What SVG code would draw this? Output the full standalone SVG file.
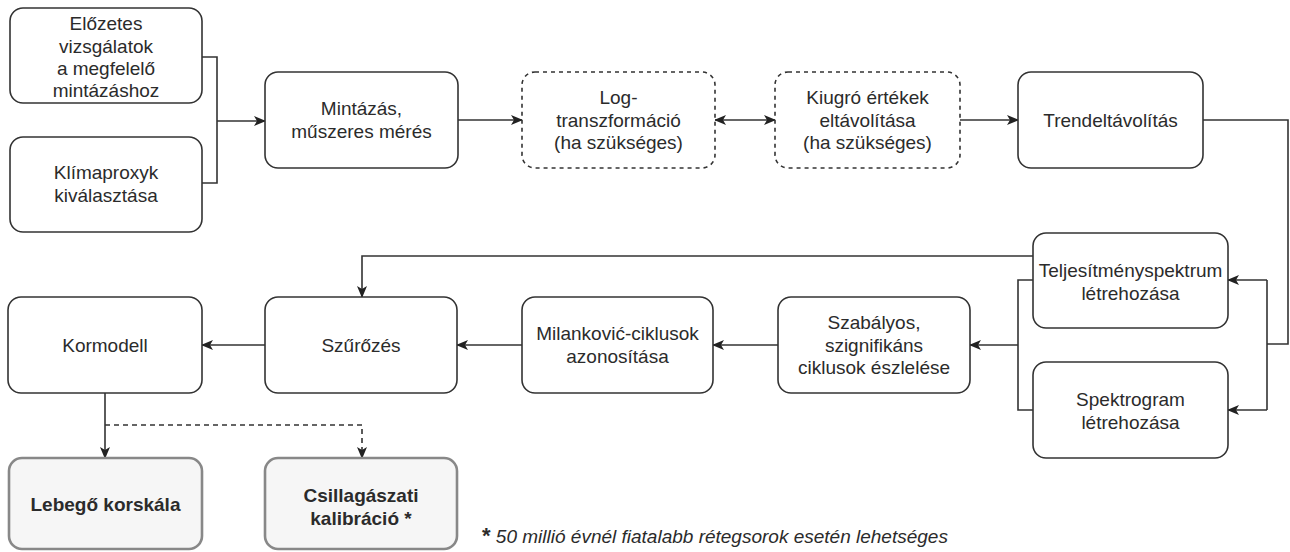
<svg xmlns="http://www.w3.org/2000/svg" width="1290" height="552" viewBox="0 0 1290 552">
<defs>
<style>
.box{fill:#fff;stroke:#333;stroke-width:1.6}
.dash{fill:#fff;stroke:#333;stroke-width:1.6;stroke-dasharray:4 4}
.res{fill:#f6f6f6;stroke:#888;stroke-width:2.6}
.t{font-family:"Liberation Sans",Arial,sans-serif;font-size:19px;fill:#2b2b2b;text-anchor:middle}
.b{font-weight:bold}
.c{fill:none;stroke:#333;stroke-width:1.6}
.cd{fill:none;stroke:#333;stroke-width:1.6;stroke-dasharray:5 4}
.note{font-family:"Liberation Sans",Arial,sans-serif;font-size:19px;fill:#2b2b2b;font-style:italic}
</style>
<marker id="ah" viewBox="0 0 12 10" refX="11" refY="5" markerWidth="12" markerHeight="10" markerUnits="userSpaceOnUse" orient="auto-start-reverse">
<path d="M0,0 L12,5 L0,10 L3,5 z" fill="#222"/>
</marker>
</defs>
<rect width="1290" height="552" fill="#fff"/>
<g id="connectors">
<path class="c" d="M202,57 H217 V183 H202"/>
<path class="c" d="M217,121 H265" marker-end="url(#ah)"/>
<path class="c" d="M458,120 H522" marker-end="url(#ah)"/>
<path class="c" d="M715,120 H775" marker-start="url(#ah)" marker-end="url(#ah)"/>
<path class="c" d="M960,120 H1018" marker-end="url(#ah)"/>
<path class="c" d="M1203,120 H1288 V344 H1267"/>
<path class="c" d="M1267,280 V410"/>
<path class="c" d="M1267,280 H1228" marker-end="url(#ah)"/>
<path class="c" d="M1267,410 H1228" marker-end="url(#ah)"/>
<path class="c" d="M1033,280 H1018 V410 H1033"/>
<path class="c" d="M1018,345 H970" marker-end="url(#ah)"/>
<path class="c" d="M1033,256 H362 V297" marker-end="url(#ah)"/>
<path class="c" d="M778,345 H713" marker-end="url(#ah)"/>
<path class="c" d="M522,345 H457" marker-end="url(#ah)"/>
<path class="c" d="M265,345 H202" marker-end="url(#ah)"/>
<path class="c" d="M105,393 V458" marker-end="url(#ah)"/>
<path class="cd" d="M105,425 H362 V458" marker-end="url(#ah)"/>
</g>
<g id="n-elozetes">
<rect class="box" x="10" y="8" width="192" height="95" rx="13"/>
<text class="t" x="106" y="30">Előzetes</text>
<text class="t" x="106" y="52.5">vizsgálatok</text>
<text class="t" x="106" y="75">a megfelelő</text>
<text class="t" x="106" y="97">mintázáshoz</text>
</g>
<g id="n-klima">
<rect class="box" x="10" y="137" width="192" height="95" rx="13"/>
<text class="t" x="106" y="179">Klímaproxyk</text>
<text class="t" x="106" y="201.5">kiválasztása</text>
</g>
<g id="n-mintazas">
<rect class="box" x="265" y="72" width="193" height="96" rx="13"/>
<text class="t" x="361.5" y="115">Mintázás,</text>
<text class="t" x="361.5" y="137.5">műszeres mérés</text>
</g>
<g id="n-log">
<rect class="dash" x="522" y="72" width="193" height="96" rx="13"/>
<text class="t" x="618.5" y="104">Log-</text>
<text class="t" x="618.5" y="126.5">transzformáció</text>
<text class="t" x="618.5" y="149">(ha szükséges)</text>
</g>
<g id="n-kiugro">
<rect class="dash" x="775" y="72" width="185" height="96" rx="13"/>
<text class="t" x="867.5" y="104">Kiugró értékek</text>
<text class="t" x="867.5" y="126.5">eltávolítása</text>
<text class="t" x="867.5" y="149">(ha szükséges)</text>
</g>
<g id="n-trend">
<rect class="box" x="1018" y="72" width="185" height="96" rx="13"/>
<text class="t" x="1110.5" y="127">Trendeltávolítás</text>
</g>
<g id="n-teljesitmeny">
<rect class="box" x="1033" y="233" width="195" height="95" rx="13"/>
<text class="t" x="1130.5" y="277">Teljesítményspektrum</text>
<text class="t" x="1130.5" y="299.5">létrehozása</text>
</g>
<g id="n-spektrogram">
<rect class="box" x="1033" y="362" width="195" height="96" rx="13"/>
<text class="t" x="1130.5" y="406">Spektrogram</text>
<text class="t" x="1130.5" y="428.5">létrehozása</text>
</g>
<g id="n-szabalyos">
<rect class="box" x="778" y="297" width="192" height="96" rx="13"/>
<text class="t" x="874" y="329">Szabályos,</text>
<text class="t" x="874" y="351.5">szignifikáns</text>
<text class="t" x="874" y="374">ciklusok észlelése</text>
</g>
<g id="n-milankovic">
<rect class="box" x="522" y="297" width="191" height="96" rx="13"/>
<text class="t" x="617.5" y="340">Milanković-ciklusok</text>
<text class="t" x="617.5" y="362.5">azonosítása</text>
</g>
<g id="n-szurozes">
<rect class="box" x="265" y="297" width="192" height="96" rx="13"/>
<text class="t" x="361" y="352">Szűrőzés</text>
</g>
<g id="n-kormodell">
<rect class="box" x="8" y="297" width="194" height="96" rx="13"/>
<text class="t" x="105" y="352">Kormodell</text>
</g>
<g id="n-lebego">
<rect class="res" x="9" y="458" width="193" height="91" rx="13"/>
<text class="t b" x="105.5" y="511">Lebegő korskála</text>
</g>
<g id="n-csillag">
<rect class="res" x="265" y="458" width="192" height="91" rx="13"/>
<text class="t b" x="361" y="502">Csillagászati</text>
<text class="t b" x="361" y="524.5">kalibráció *</text>
</g>
<g id="footnote">
<text class="note" x="482" y="543"><tspan font-style="normal" font-weight="bold" font-size="22">*</tspan> 50 millió évnél fiatalabb rétegsorok esetén lehetséges</text>
</g>
</svg>
